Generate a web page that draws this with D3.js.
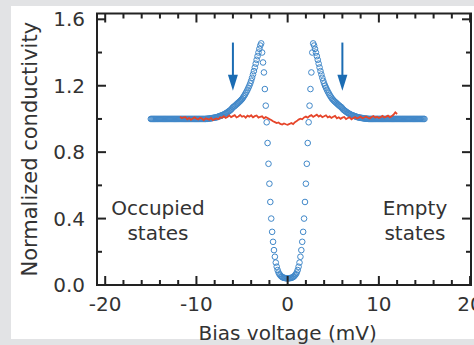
<!DOCTYPE html>
<html>
<head>
<meta charset="utf-8">
<script src="https://cdn.jsdelivr.net/npm/d3@7"></script>
<style>
  body { margin: 0; background: #e2e3e5; }
  svg { display: block; }
  text { font-family: "DejaVu Sans", Verdana, sans-serif; fill: #333; }
</style>
</head>
<body>
<svg id="chart"></svg>
<script>
const width = 474;
const height = 345;
const margin = {left: 97, right: 3, top: 13.5, bottom: 60};

// superconducting state (blue circles), 0.1 mV steps
const blueBias = [
  -15.0, -14.9, -14.8, -14.7, -14.6, -14.5, -14.4, -14.3, -14.2, -14.1,
  -14.0, -13.9, -13.8, -13.7, -13.6, -13.5, -13.4, -13.3, -13.2, -13.1,
  -13.0, -12.9, -12.8, -12.7, -12.6, -12.5, -12.4, -12.3, -12.2, -12.1,
  -12.0, -11.9, -11.8, -11.7, -11.6, -11.5, -11.4, -11.3, -11.2, -11.1,
  -11.0, -10.9, -10.8, -10.7, -10.6, -10.5, -10.4, -10.3, -10.2, -10.1,
  -10.0, -9.9, -9.8, -9.7, -9.6, -9.5, -9.4, -9.3, -9.2, -9.1,
  -9.0, -8.9, -8.8, -8.7, -8.6, -8.5, -8.4, -8.3, -8.2, -8.1,
  -8.0, -7.9, -7.8, -7.7, -7.6, -7.5, -7.4, -7.3, -7.2, -7.1,
  -7.0, -6.9, -6.8, -6.7, -6.6, -6.5, -6.4, -6.3, -6.2, -6.1,
  -6.0, -5.9, -5.8, -5.7, -5.6, -5.5, -5.4, -5.3, -5.2, -5.1,
  -5.0, -4.9, -4.8, -4.7, -4.6, -4.5, -4.4, -4.3, -4.2, -4.1,
  -4.0, -3.9, -3.8, -3.7, -3.6, -3.5, -3.4, -3.3, -3.2, -3.1,
  -3.0, -2.9, -2.8, -2.7, -2.6, -2.5, -2.4, -2.3, -2.2, -2.1,
  -2.0, -1.9, -1.8, -1.7, -1.6, -1.5, -1.4, -1.3, -1.2, -1.1,
  -1.0, -0.9, -0.8, -0.7, -0.6, -0.5, -0.4, -0.3, -0.2, -0.1,
  0.0, 0.1, 0.2, 0.3, 0.4, 0.5, 0.6, 0.7, 0.8, 0.9,
  1.0, 1.1, 1.2, 1.3, 1.4, 1.5, 1.6, 1.7, 1.8, 1.9,
  2.0, 2.1, 2.2, 2.3, 2.4, 2.5, 2.6, 2.7, 2.8, 2.9,
  3.0, 3.1, 3.2, 3.3, 3.4, 3.5, 3.6, 3.7, 3.8, 3.9,
  4.0, 4.1, 4.2, 4.3, 4.4, 4.5, 4.6, 4.7, 4.8, 4.9,
  5.0, 5.1, 5.2, 5.3, 5.4, 5.5, 5.6, 5.7, 5.8, 5.9,
  6.0, 6.1, 6.2, 6.3, 6.4, 6.5, 6.6, 6.7, 6.8, 6.9,
  7.0, 7.1, 7.2, 7.3, 7.4, 7.5, 7.6, 7.7, 7.8, 7.9,
  8.0, 8.1, 8.2, 8.3, 8.4, 8.5, 8.6, 8.7, 8.8, 8.9,
  9.0, 9.1, 9.2, 9.3, 9.4, 9.5, 9.6, 9.7, 9.8, 9.9,
  10.0, 10.1, 10.2, 10.3, 10.4, 10.5, 10.6, 10.7, 10.8, 10.9,
  11.0, 11.1, 11.2, 11.3, 11.4, 11.5, 11.6, 11.7, 11.8, 11.9,
  12.0, 12.1, 12.2, 12.3, 12.4, 12.5, 12.6, 12.7, 12.8, 12.9,
  13.0, 13.1, 13.2, 13.3, 13.4, 13.5, 13.6, 13.7, 13.8, 13.9,
  14.0, 14.1, 14.2, 14.3, 14.4, 14.5, 14.6, 14.7, 14.8, 14.9,
  15.0
];
const blueCond = [
  1.00, 1.00, 1.00, 1.00, 1.00, 1.00, 1.00, 1.00, 1.00, 1.00,
  1.00, 1.00, 1.00, 1.00, 1.00, 1.00, 1.00, 1.00, 1.00, 1.00,
  1.00, 1.00, 1.00, 1.00, 1.00, 1.00, 1.00, 1.00, 1.00, 1.00,
  1.00, 1.00, 1.00, 1.00, 1.00, 1.00, 1.00, 1.00, 1.00, 1.00,
  1.00, 1.00, 1.00, 1.00, 1.00, 1.00, 1.00, 1.00, 1.00, 1.00,
  1.00, 1.00, 1.00, 1.00, 1.00, 1.00, 1.00, 1.00, 1.00, 1.00,
  1.000, 1.001, 1.001, 1.002, 1.002, 1.003, 1.004, 1.005, 1.006, 1.007,
  1.008, 1.009, 1.010, 1.012, 1.014, 1.016, 1.018, 1.020, 1.022, 1.024,
  1.027, 1.030, 1.033, 1.036, 1.040, 1.044, 1.048, 1.052, 1.057, 1.063,
  1.070, 1.074, 1.078, 1.083, 1.088, 1.093, 1.098, 1.103, 1.108, 1.114,
  1.120, 1.128, 1.136, 1.145, 1.155, 1.165, 1.176, 1.188, 1.200, 1.214,
  1.230, 1.248, 1.268, 1.288, 1.310, 1.333, 1.356, 1.378, 1.400, 1.422,
  1.442, 1.455, 1.40, 1.34, 1.28, 1.18, 1.08, 0.98, 0.855, 0.73,
  0.61, 0.50, 0.40, 0.32, 0.26, 0.21, 0.17, 0.135, 0.11, 0.09,
  0.075, 0.065, 0.058, 0.052, 0.048, 0.045, 0.043, 0.042, 0.041, 0.040,
  0.040, 0.040, 0.041, 0.042, 0.043, 0.045, 0.048, 0.052, 0.058, 0.065,
  0.075, 0.09, 0.11, 0.135, 0.17, 0.21, 0.26, 0.32, 0.40, 0.50,
  0.61, 0.73, 0.855, 0.98, 1.08, 1.18, 1.28, 1.40, 1.455, 1.442,
  1.422, 1.400, 1.378, 1.356, 1.333, 1.310, 1.288, 1.268, 1.248, 1.230,
  1.214, 1.200, 1.188, 1.176, 1.165, 1.155, 1.145, 1.136, 1.128, 1.120,
  1.114, 1.108, 1.103, 1.098, 1.093, 1.088, 1.083, 1.078, 1.074, 1.070,
  1.063, 1.057, 1.052, 1.048, 1.044, 1.040, 1.036, 1.033, 1.030, 1.027,
  1.024, 1.022, 1.020, 1.018, 1.016, 1.014, 1.012, 1.010, 1.009, 1.008,
  1.007, 1.006, 1.005, 1.004, 1.003, 1.002, 1.002, 1.001, 1.001, 1.000,
  1.00, 1.00, 1.00, 1.00, 1.00, 1.00, 1.00, 1.00, 1.00, 1.00,
  1.00, 1.00, 1.00, 1.00, 1.00, 1.00, 1.00, 1.00, 1.00, 1.00,
  1.00, 1.00, 1.00, 1.00, 1.00, 1.00, 1.00, 1.00, 1.00, 1.00,
  1.00, 1.00, 1.00, 1.00, 1.00, 1.00, 1.00, 1.00, 1.00, 1.00,
  1.00, 1.00, 1.00, 1.00, 1.00, 1.00, 1.00, 1.00, 1.00, 1.00,
  1.00, 1.00, 1.00, 1.00, 1.00, 1.00, 1.00, 1.00, 1.00, 1.00,
  1.00
];

// normal state (red line), 0.2 mV steps from -11.8 to 12.0
const redBias = [
  -11.8, -11.6, -11.4, -11.2, -11.0, -10.8, -10.6, -10.4, -10.2, -10.0,
  -9.8, -9.6, -9.4, -9.2, -9.0, -8.8, -8.6, -8.4, -8.2, -8.0,
  -7.8, -7.6, -7.4, -7.2, -7.0, -6.8, -6.6, -6.4, -6.2, -6.0,
  -5.8, -5.6, -5.4, -5.2, -5.0, -4.8, -4.6, -4.4, -4.2, -4.0,
  -3.8, -3.6, -3.4, -3.2, -3.0, -2.8, -2.6, -2.4, -2.2, -2.0,
  -1.8, -1.6, -1.4, -1.2, -1.0, -0.8, -0.6, -0.4, -0.2, 0.0,
  0.2, 0.4, 0.6, 0.8, 1.0, 1.2, 1.4, 1.6, 1.8, 2.0,
  2.2, 2.4, 2.6, 2.8, 3.0, 3.2, 3.4, 3.6, 3.8, 4.0,
  4.2, 4.4, 4.6, 4.8, 5.0, 5.2, 5.4, 5.6, 5.8, 6.0,
  6.2, 6.4, 6.6, 6.8, 7.0, 7.2, 7.4, 7.6, 7.8, 8.0,
  8.2, 8.4, 8.6, 8.8, 9.0, 9.2, 9.4, 9.6, 9.8, 10.0,
  10.2, 10.4, 10.6, 10.8, 11.0, 11.2, 11.4, 11.6, 11.8, 12.0
];
const redCond = [
  1.014, 1.004, 1.009, 1.011, 0.998, 1.006, 0.995, 1.003, 1.010, 1.001,
  0.997, 1.007, 1.002, 0.992, 1.004, 1.000, 0.996, 1.006, 0.993, 0.999,
  1.003, 0.998, 1.010, 1.007, 1.016, 1.006, 1.012, 1.021, 1.011, 1.017,
  1.023, 1.009, 1.015, 1.024, 1.013, 1.018, 1.008, 1.020, 1.014, 1.022,
  1.010, 1.017, 1.021, 1.008, 1.013, 1.016, 1.004, 1.011, 1.006, 0.999,
  0.994, 0.986, 0.981, 0.975, 0.979, 0.970, 0.966, 0.973, 0.968, 0.965,
  0.970, 0.976, 0.969, 0.981, 0.987, 0.996, 1.002, 0.998, 1.009, 1.014,
  1.008, 1.017, 1.023, 1.012, 1.019, 1.026, 1.014, 1.021, 1.011, 1.016,
  1.022, 1.009, 1.015, 1.006, 1.013, 1.018, 1.004, 1.010, 1.001, 1.008,
  1.012, 0.999, 1.006, 1.010, 0.998, 1.005, 1.011, 1.003, 1.008, 1.014,
  1.004, 1.009, 1.015, 1.007, 1.003, 1.012, 1.017, 1.008, 1.013, 1.006,
  1.011, 1.018, 1.009, 1.014, 1.020, 1.010, 1.016, 1.025, 1.040, 1.030
];

// arrows marking the gap edges
const arrowBias = [-6, 6];
const arrowTop = 1.46;
const arrowTip = 1.17;

const xMajor = [-20, -10, 0, 10, 20];
const xMinor = d3.range(-20, 21, 2);
const yMajor = [0, 0.4, 0.8, 1.2, 1.6];
const yMinor = [0, 0.2, 0.4, 0.6, 0.8, 1.0, 1.2, 1.4, 1.6];

const svg = d3.select('#chart')
  .attr('width', width)
  .attr('height', height);

svg.append('rect')
  .attr('x', 11).attr('y', 6)
  .attr('width', width - 11).attr('height', 333)
  .attr('fill', '#fff');

const x = d3.scaleLinear()
  .domain([-20.9, 20.1])
  .range([margin.left, width - margin.right]);
const y = d3.scaleLinear()
  .domain([0, 1.635])
  .range([height - margin.bottom, margin.top]);

const plot = svg.append('g');

// blue circles
plot.append('g')
  .selectAll('circle')
  .data(blueBias)
  .enter()
  .append('circle')
  .attr('cx', d => x(d))
  .attr('cy', (d, i) => y(blueCond[i]))
  .attr('r', 2.8)
  .attr('fill', 'none')
  .attr('stroke', '#4188c9')
  .attr('stroke-width', 1);

// red line
const line = d3.line()
  .x(d => x(d))
  .y((d, i) => y(redCond[i]));
plot.append('path')
  .datum(redBias)
  .attr('d', line)
  .attr('fill', 'none')
  .attr('stroke', '#e6452a')
  .attr('stroke-width', 1.8);

// arrows
arrowBias.forEach(b => {
  const ax = x(b);
  const tipY = y(arrowTip);
  plot.append('line')
    .attr('x1', ax).attr('x2', ax)
    .attr('y1', y(arrowTop)).attr('y2', tipY - 8)
    .attr('stroke', '#1b6cb3')
    .attr('stroke-width', 2);
  plot.append('path')
    .attr('d', `M${ax - 5},${tipY - 16} L${ax + 5},${tipY - 16} L${ax},${tipY} Z`)
    .attr('fill', '#1b6cb3');
});

// axes, ticks inward
const frame = svg.append('g');
const axisColor = '#222';
const yBottom = y(0);
const yTop = margin.top;
const xLeft = margin.left;
const xRight = width - margin.right;

frame.append('rect')
  .attr('x', xLeft).attr('y', yTop)
  .attr('width', xRight - xLeft).attr('height', yBottom - yTop)
  .attr('fill', 'none')
  .attr('stroke', axisColor)
  .attr('stroke-width', 2);

xMinor.forEach(v => {
  const len = xMajor.includes(v) ? 9 : 5;
  frame.append('line')
    .attr('x1', x(v)).attr('x2', x(v))
    .attr('y1', yBottom).attr('y2', yBottom - len)
    .attr('stroke', axisColor).attr('stroke-width', 2);
  frame.append('line')
    .attr('x1', x(v)).attr('x2', x(v))
    .attr('y1', yTop).attr('y2', yTop + len)
    .attr('stroke', axisColor).attr('stroke-width', 2);
});

yMinor.forEach(v => {
  const len = yMajor.some(m => Math.abs(m - v) < 1e-9) ? 9 : 5;
  frame.append('line')
    .attr('x1', xLeft).attr('x2', xLeft + len)
    .attr('y1', y(v)).attr('y2', y(v))
    .attr('stroke', axisColor).attr('stroke-width', 2);
  frame.append('line')
    .attr('x1', xRight).attr('x2', xRight - len)
    .attr('y1', y(v)).attr('y2', y(v))
    .attr('stroke', axisColor).attr('stroke-width', 2);
});

// tick labels
svg.append('g')
  .selectAll('text')
  .data(xMajor)
  .enter()
  .append('text')
  .attr('x', d => x(d))
  .attr('y', 311)
  .attr('text-anchor', 'middle')
  .attr('font-size', 20)
  .text(d => d);

svg.append('g')
  .selectAll('text')
  .data(yMajor)
  .enter()
  .append('text')
  .attr('x', 85)
  .attr('y', d => y(d) + 7)
  .attr('text-anchor', 'end')
  .attr('font-size', 20)
  .text(d => d.toFixed(1));

// axis titles
svg.append('text')
  .attr('x', x(0))
  .attr('y', 340)
  .attr('text-anchor', 'middle')
  .attr('font-size', 20)
  .text('Bias voltage (mV)');

svg.append('text')
  .attr('transform', `translate(37, ${(yTop + yBottom) / 2}) rotate(-90)`)
  .attr('text-anchor', 'middle')
  .attr('font-size', 21)
  .text('Normalized conductivity');

// annotations
const notes = [
  {lines: ['Occupied', 'states'], cx: 158},
  {lines: ['Empty', 'states'], cx: 415}
];
notes.forEach(n => {
  n.lines.forEach((t, i) => {
    svg.append('text')
      .attr('x', n.cx)
      .attr('y', 215 + i * 25)
      .attr('text-anchor', 'middle')
      .attr('font-size', 20)
      .text(t);
  });
});
</script>
</body>
</html>
